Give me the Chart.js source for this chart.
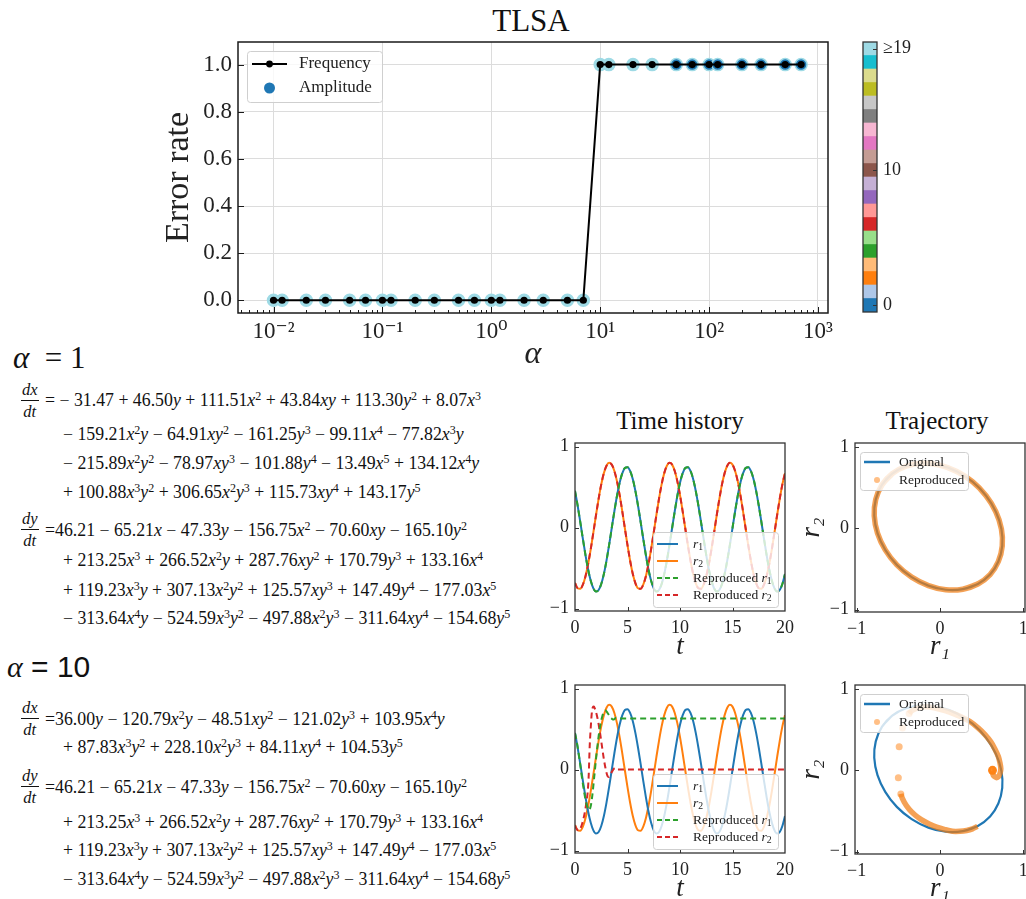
<!DOCTYPE html>
<html><head><meta charset="utf-8"><title>TLSA</title>
<script src="https://cdn.jsdelivr.net/npm/chart.js@4.4.1/dist/chart.umd.min.js"></script>
<style>
html,body{margin:0;padding:0;background:#fff;overflow:hidden;width:1026px;height:899px;}
body{position:relative;font-family:'Liberation Serif','DejaVu Serif',serif;color:#111;}
canvas{position:absolute;}
.t{position:absolute;white-space:nowrap;line-height:1;}
.eq{position:absolute;white-space:nowrap;font-size:17.8px;line-height:20px;transform:translateY(-50%);}
.eq i{font-style:italic;}
.eq sup{font-size:12px;vertical-align:6px;line-height:0;}
.frac{position:absolute;display:flex;flex-direction:column;align-items:center;font-style:italic;font-size:16.5px;line-height:16px;transform:translateY(-50%);}
.frac span:first-child{border-bottom:1px solid #111;padding:0 1px 2px 1px;}
.frac span:last-child{padding-top:3px;}
</style></head>
<body>
<div class="t" style="left:531px;top:20px;transform:translate(-50%,-50%);font-size:31px">TLSA</div>
<canvas id="cMain" width="710" height="375" style="left:150px;top:0"></canvas>
<canvas id="cBar" width="80" height="308" style="left:855px;top:22px"></canvas>

<div class="t" style="left:13px;top:357px;transform:translateY(-50%);font-size:31px"><i>α</i>&nbsp;&nbsp;= 1</div>
<div class="t" style="left:7px;top:667px;transform:translateY(-50%);font-size:30px;font-family:'Liberation Sans','Open Sans',sans-serif"><i style="font-family:'Liberation Serif',serif">α</i> = 10</div>
<div id="eqs"></div>

<div class="t" style="left:680px;top:420px;transform:translate(-50%,-50%);font-size:25px">Time history</div>
<div class="t" style="left:937px;top:420px;transform:translate(-50%,-50%);font-size:25px">Trajectory</div>
<canvas id="cT1" width="280" height="247" style="left:535px;top:423px"></canvas>
<canvas id="cP1" width="270" height="247" style="left:790px;top:423px"></canvas>
<canvas id="cT2" width="280" height="247" style="left:535px;top:665px"></canvas>
<canvas id="cP2" width="270" height="247" style="left:790px;top:665px"></canvas>

<script>
// ---------------- DATA ----------------
const alphaVals = [0.01,0.012,0.02,0.03,0.05,0.07,0.1,0.12,0.2,0.3,0.5,0.7,1,1.2,2,3,5,7,10,12,20,30,50,70,100,120,200,300,500,700];
const freqErrRate = [0,0,0,0,0,0,0,0,0,0,0,0,0,0,0,0,0,0,1,1,1,1,1,1,1,1,1,1,1,1];
const ampErrRate  = [0,0,0,0,0,0,0,0,0,0,0,0,0,0,0,0,0,0,1,1,1,1,1,1,1,1,1,1,1,1];
const ampLevel    = [19,19,19,19,19,19,19,19,19,19,19,19,19,19,19,19,19,19,19,19,19,19,0,0,0,0,0,0,0,0];
const xTickVals   = [0.01,0.1,1,10,100,1000];
const xTickLabels = ['10⁻²','10⁻¹','10⁰','10¹','10²','10³'];
const yTickVals   = [0,0.2,0.4,0.6,0.8,1.0];
const yTickLabels = ['0.0','0.2','0.4','0.6','0.8','1.0'];
const cbLevels    = [0,1,2,3,4,5,6,7,8,9,10,11,12,13,14,15,16,17,18,19];
const cbTickVals  = [0,10,19];
const cbTickLabels= ['0','10','≥19'];

const tOrig = [0,0.25,0.5,0.75,1,1.25,1.5,1.75,2,2.25,2.5,2.75,3,3.25,3.5,3.75,4,4.25,4.5,4.75,5,5.25,5.5,5.75,6,6.25,6.5,6.75,7,7.25,7.5,7.75,8,8.25,8.5,8.75,9,9.25,9.5,9.75,10,
  10.25,10.5,10.75,11,11.25,11.5,11.75,12,12.25,12.5,12.75,13,13.25,13.5,13.75,14,14.25,14.5,14.75,15,15.25,15.5,15.75,16,16.25,16.5,16.75,17,17.25,17.5,17.75,18,18.25,18.5,18.75,19,19.25,19.5,19.75,20];
const r1Orig = [0.454,0.273,0.070,-0.139,-0.340,-0.518,-0.657,-0.750,-0.789,-0.771,-0.697,-0.573,-0.407,-0.214,-0.005,0.202,0.393,0.553,0.670,0.737,0.747,0.700,0.601,
  0.454,0.273,0.070,-0.139,-0.340,-0.518,-0.657,-0.750,-0.789,-0.771,-0.697,-0.573,-0.407,-0.214,-0.005,0.202,0.393,0.553,0.670,0.737,0.747,0.700,0.601,
  0.454,0.273,0.070,-0.139,-0.340,-0.518,-0.657,-0.750,-0.789,-0.771,-0.697,-0.573,-0.407,-0.214,-0.005,0.202,0.393,0.553,0.670,0.737,0.747,0.700,0.601,
  0.454,0.273,0.070,-0.139,-0.340,-0.518,-0.657,-0.750,-0.789,-0.771,-0.697,-0.573];
const r2Orig = [-0.685,-0.749,-0.756,-0.705,-0.601,-0.450,-0.265,-0.059,0.154,0.356,0.534,0.673,0.764,0.800,0.778,0.699,0.571,0.401,0.204,-0.008,-0.217,-0.409,-0.569,
  -0.685,-0.749,-0.756,-0.705,-0.601,-0.450,-0.265,-0.059,0.154,0.356,0.534,0.673,0.764,0.800,0.778,0.699,0.571,0.401,0.204,-0.008,-0.217,-0.409,-0.569,
  -0.685,-0.749,-0.756,-0.705,-0.601,-0.450,-0.265,-0.059,0.154,0.356,0.534,0.673,0.764,0.800,0.778,0.699,0.571,0.401,0.204,-0.008,-0.217,-0.409,-0.569,
  -0.685,-0.749,-0.756,-0.705,-0.601,-0.450,-0.265,-0.059,0.154,0.356,0.534,0.673];
// alpha = 1: reproduced curves coincide with the originals
const r1Rep1 = r1Orig;
const r2Rep1 = r2Orig;
// alpha = 10: reproduced curves
const tRep10 = [0,0.1,0.2,0.3,0.4,0.5,0.6,0.7,0.8,0.9,1.0,1.1,1.2,1.3,1.4,1.5,1.6,1.7,1.8,1.9,2.0,2.1,2.2,2.3,2.4,2.5,2.6,2.7,2.8,2.9,3.0,3.1,3.2,3.3,3.4,3.5,3.6,3.7,3.8,3.9,4.0,
  4.5,5,5.5,6,6.5,7,7.5,8,8.5,9,9.5,10,10.5,11,11.5,12,12.5,13,13.5,14,14.5,15,15.5,16,16.5,17,17.5,18,18.5,19,19.5,20];
const r1Rep10 = [0.45,0.39,0.32,0.24,0.15,0.06,-0.04,-0.13,-0.22,-0.30,-0.37,-0.43,-0.47,-0.50,-0.49,-0.45,-0.37,-0.26,-0.13,0.00,0.13,0.25,0.36,0.46,0.54,0.61,0.66,0.70,0.72,0.73,0.72,0.70,0.68,0.66,0.64,0.63,0.62,0.62,0.63,0.64,0.64,
  0.63,0.63,0.63,0.63,0.63,0.63,0.63,0.63,0.63,0.63,0.63,0.63,0.63,0.63,0.63,0.63,0.63,0.63,0.63,0.63,0.63,0.63,0.63,0.63,0.63,0.63,0.63,0.63,0.63,0.63,0.63,0.63];
const r2Rep10 = [-0.69,-0.72,-0.74,-0.75,-0.75,-0.73,-0.70,-0.66,-0.61,-0.55,-0.48,-0.39,-0.29,-0.09,0.29,0.52,0.70,0.77,0.78,0.75,0.71,0.66,0.60,0.52,0.44,0.35,0.26,0.17,0.09,0.02,-0.04,-0.08,-0.09,-0.08,-0.06,-0.03,-0.01,0.01,0.02,0.01,0.00,
  0,0,0,0,0,0,0,0,0,0,0,0,0,0,0,0,0,0,0,0,0,0,0,0,0,0,0,0,0,0,0,0];
const timeTickVals = [0,5,10,15,20];
const timeTickLabels = ['0','5','10','15','20'];
const unitTickVals = [-1,0,1];
const unitTickLabels = ['−1','0','1'];

// equations text
const eqA1dx = [
 '= − 31.47 + 46.50y + 111.51x^2 + 43.84xy + 113.30y^2 + 8.07x^3',
 '− 159.21x^2y − 64.91xy^2 − 161.25y^3 − 99.11x^4 − 77.82x^3y',
 '− 215.89x^2y^2 − 78.97xy^3 − 101.88y^4 − 13.49x^5 + 134.12x^4y',
 '+ 100.88x^3y^2 + 306.65x^2y^3 + 115.73xy^4 + 143.17y^5'];
const eqDy = [
 '=46.21 − 65.21x − 47.33y − 156.75x^2 − 70.60xy − 165.10y^2',
 '+ 213.25x^3 + 266.52x^2y + 287.76xy^2 + 170.79y^3 + 133.16x^4',
 '+ 119.23x^3y + 307.13x^2y^2 + 125.57xy^3 + 147.49y^4 − 177.03x^5',
 '− 313.64x^4y − 524.59x^3y^2 − 497.88x^2y^3 − 311.64xy^4 − 154.68y^5'];
const eqA10dx = [
 '=36.00y − 120.79x^2y − 48.51xy^2 − 121.02y^3 + 103.95x^4y',
 '+ 87.83x^3y^2 + 228.10x^2y^3 + 84.11xy^4 + 104.53y^5'];

// ---------------- EQUATION LAYOUT ----------------
(function(){
  const host = document.getElementById('eqs');
  const fmt = s => s.replace(/[xy]/g, m => '<i>' + m + '</i>').replace(/\^(\d)/g, '<sup>$1</sup>');
  function line(txt, x, y){ const d = document.createElement('div'); d.className='eq'; d.style.left=x+'px'; d.style.top=y+'px'; d.innerHTML = fmt(txt); host.appendChild(d); }
  function frac(num, den, x, y){ const d = document.createElement('div'); d.className='frac'; d.style.left=x+'px'; d.style.top=y+'px'; d.innerHTML='<span>'+num+'</span><span>'+den+'</span>'; host.appendChild(d); }
  const ysA1dx = [400,434,463,492], ysA1dy = [530,560,590,618];
  frac('dx','dt',21,401); frac('dy','dt',21,530);
  eqA1dx.forEach((s,i)=>line(s, i===0?45:63, ysA1dx[i]));
  eqDy.forEach((s,i)=>line(s, i===0?45:63, ysA1dy[i]));
  const ysA10dx = [719,747], ysA10dy = [787,822,850,879];
  frac('dx','dt',21,719); frac('dy','dt',21,787);
  eqA10dx.forEach((s,i)=>line(s, i===0?45:63, ysA10dx[i]));
  eqDy.forEach((s,i)=>line(s, i===0?45:63, ysA10dy[i]));
})();

// ---------------- CHART HELPERS ----------------
const SERIF = "'Liberation Serif','DejaVu Serif',serif";
Chart.defaults.font.family = SERIF;
Chart.defaults.color = '#222';
const tab20 = ['#1f77b4','#aec7e8','#ff7f0e','#ffbb78','#2ca02c','#98df8a','#d62728','#ff9896','#9467bd','#c5b0d5','#8c564b','#c49c94','#e377c2','#f7b6d2','#7f7f7f','#c7c7c7','#bcbd22','#dbdb8d','#17becf','#9edae5'];
const C_BLUE='#1f77b4', C_ORANGE='#ff7f0e', C_GREEN='#2ca02c', C_RED='#d62728';
const REP_BAND = 'rgba(240,125,20,0.72)';
const REP_DOT = 'rgba(255,127,14,0.5)';

function labelFrom(vals, labels){ return v => { const i = vals.findIndex(t => Math.abs(t - v) < 1e-9 * Math.max(1, Math.abs(t))); return i >= 0 ? labels[i] : ''; }; }
function isDecade(v){ const l = Math.log10(v); return Math.abs(l - Math.round(l)) < 1e-6; }

function drawRich(ctx, parts, x, y, size){
  ctx.textBaseline='middle'; ctx.textAlign='left'; ctx.fillStyle='#222';
  let cx = x;
  parts.forEach(([t, st]) => {
    let fs = size, dy = 0;
    const it = st.indexOf('i') >= 0;
    if (st.indexOf('s') >= 0){ fs = size*0.72; dy = size*0.28; }
    ctx.font = (it ? 'italic ' : '') + fs + 'px ' + SERIF;
    ctx.fillText(t, cx, y + dy);
    cx += ctx.measureText(t).width;
  });
}
function framePlugin(cfg){
  return { id:'frame', afterDatasetsDraw(chart){
    const {ctx, chartArea:a} = chart;
    ctx.save();
    ctx.strokeStyle = cfg.color || '#222';
    ctx.lineWidth = 1;
    ctx.beginPath();
    if (cfg.xTicks){
      const s = chart.scales.x;
      s.ticks.forEach(t => {
        const p = s.getPixelForValue(t.value);
        if (p < a.left + 1 || p > a.right - 1) return;
        const major = cfg.logX ? isDecade(t.value) : true;
        const L = major ? cfg.xTicks : (cfg.xMinor || 0);
        if (!L) return;
        ctx.moveTo(Math.round(p)+0.5, a.bottom); ctx.lineTo(Math.round(p)+0.5, a.bottom - L);
      });
    }
    if (cfg.yTicks){
      const s = chart.scales.y;
      s.ticks.forEach(t => {
        const p = s.getPixelForValue(t.value);
        if (p < a.top - 0.5 || p > a.bottom + 0.5) return;
        const yy = Math.round(p)+0.5;
        if (cfg.ySide === 'right'){ ctx.moveTo(a.right, yy); ctx.lineTo(a.right - cfg.yTicks, yy); }
        else { ctx.moveTo(a.left, yy); ctx.lineTo(a.left + cfg.yTicks, yy); }
      });
    }
    ctx.stroke();
    ctx.lineWidth = cfg.lw || 1.3;
    ctx.strokeRect(a.left, a.top, a.right - a.left, a.bottom - a.top);
    ctx.restore();
  }};
}
function legendPlugin(cfg){
  return { id:'boxLegend', afterDraw(chart){
    const {ctx, chartArea:a} = chart;
    const x0 = a.left + cfg.x, y0 = a.top + cfg.y;
    ctx.save();
    ctx.beginPath();
    if (ctx.roundRect) ctx.roundRect(x0+0.5, y0+0.5, cfg.w, cfg.h, 3); else ctx.rect(x0+0.5, y0+0.5, cfg.w, cfg.h);
    ctx.fillStyle = 'rgba(255,255,255,0.8)'; ctx.fill();
    ctx.strokeStyle = '#cfcfcf'; ctx.lineWidth = 1; ctx.stroke();
    cfg.rows.forEach(r => {
      const ry = y0 + r.dy;
      if (r.line){
        ctx.beginPath(); ctx.setLineDash(r.dash || []); ctx.strokeStyle = r.color; ctx.lineWidth = r.lw || 2;
        ctx.moveTo(x0 + cfg.s0, ry); ctx.lineTo(x0 + cfg.s1, ry); ctx.stroke(); ctx.setLineDash([]);
      }
      if (r.dot){
        ctx.beginPath(); ctx.fillStyle = r.dotColor || r.color;
        ctx.arc(x0 + (cfg.s0 + cfg.s1)/2, ry, r.dot, 0, Math.PI*2); ctx.fill();
      }
      drawRich(ctx, r.text, x0 + cfg.tx, ry, cfg.size);
    });
    ctx.restore();
  }};
}
const noPlugins = { legend:{display:false}, tooltip:{enabled:false} };

// ---------------- MAIN CHART ----------------
const X_MIN = 0.00472, X_MAX = 1236;
new Chart(document.getElementById('cMain'), {
  type:'scatter',
  data:{ datasets:[
    { label:'Frequency', data: alphaVals.map((a,i)=>({x:a, y:freqErrRate[i]})), showLine:true,
      borderColor:'#000', backgroundColor:'#000', borderWidth:2, pointRadius:3.6, pointBorderWidth:0, tension:0, order:1 },
    { label:'Amplitude', data: alphaVals.map((a,i)=>({x:a, y:ampErrRate[i]})), showLine:false,
      pointRadius:6, pointBackgroundColor: ampLevel.map(l => tab20[l]), pointBorderColor:'#9edae5', pointBorderWidth:1.5, order:2 }
  ]},
  options:{
    responsive:false, animation:false, events:[],
    layout:{ padding:{ left:0, right:32, top:42, bottom:0 } },
    plugins: noPlugins,
    scales:{
      x:{ type:'logarithmic', min:X_MIN, max:X_MAX,
        afterBuildTicks: s => { const arr=[]; for (let e=-3;e<=3;e++){ for (let m=1;m<=9;m++){ const v = m*Math.pow(10,e); if (v>=X_MIN && v<=X_MAX) arr.push({value:v}); } } s.ticks = arr; },
        afterFit: s => { s.height = 62; },
        grid:{ drawTicks:false, color: c => (c.tick && isDecade(c.tick.value)) ? '#dcdcdc' : 'rgba(0,0,0,0)', lineWidth:1 },
        border:{ display:false },
        ticks:{ autoSkip:false, maxRotation:0, padding:5, font:{size:23}, color:'#222', callback: labelFrom(xTickVals, xTickLabels) },
        title:{ display:true, text:'α', font:{size:32, style:'italic'}, color:'#222', padding:{top:0,bottom:1} } },
      y:{ min:-0.054, max:1.096,
        afterBuildTicks: s => { s.ticks = yTickVals.map(v => ({value:v})); },
        afterFit: s => { s.width = 88; },
        grid:{ drawTicks:false, color:'#dcdcdc', lineWidth:1 },
        border:{ display:false },
        ticks:{ padding:6, font:{size:23}, color:'#222', callback: labelFrom(yTickVals, yTickLabels) },
        title:{ display:true, text:'Error rate', font:{size:34}, color:'#222', padding:{top:9,bottom:0} } }
    }
  },
  plugins:[ framePlugin({ xTicks:6, xMinor:3, logX:true, yTicks:6, lw:1.5, color:'#1a1a1a' }),
            legendPlugin({ x:9, y:9, w:135, h:51, s0:5, s1:40, tx:52, size:17, rows:[
              { dy:13, line:true, color:'#000', lw:2, dot:3.4, dotColor:'#000', text:[['Frequency','']] },
              { dy:37, dot:5.5, color:C_BLUE, text:[['Amplitude','']] } ] }) ]
});

// ---------------- COLORBAR ----------------
new Chart(document.getElementById('cBar'), {
  type:'bar',
  data:{ labels:['level'], datasets: cbLevels.map(l => ({ data:[[l-0.5, l+0.5]], backgroundColor: tab20[l], borderWidth:0, grouped:false, barPercentage:1, categoryPercentage:1 })) },
  options:{
    responsive:false, animation:false, events:[],
    layout:{ padding:{ left:8, right:0, top:20, bottom:18 } },
    plugins: noPlugins,
    scales:{
      x:{ display:false },
      y:{ position:'right', min:-0.5, max:19.5,
        afterBuildTicks: s => { s.ticks = cbTickVals.map(v => ({value:v})); },
        afterFit: s => { s.width = 58; },
        grid:{ display:false, drawTicks:false }, border:{ display:false },
        ticks:{ padding:6, font:{size:18}, color:'#222', callback: labelFrom(cbTickVals, cbTickLabels) } }
    }
  },
  plugins:[ framePlugin({ yTicks:4, ySide:'right', lw:1.3, color:'#333' }) ]
});

// ---------------- TIME HISTORY ----------------
function timeChart(id, tRep, rep1, rep2){
  const dashed = { borderWidth:2, borderDash:[6,4], pointRadius:0, cubicInterpolationMode:'monotone', showLine:true, order:1 };
  const solid = { borderWidth:2, pointRadius:0, cubicInterpolationMode:'monotone', showLine:true, order:2 };
  new Chart(document.getElementById(id), {
    type:'scatter',
    data:{ datasets:[
      Object.assign({ label:'r1', data: tOrig.map((t,i)=>({x:t,y:r1Orig[i]})), borderColor:C_BLUE }, solid),
      Object.assign({ label:'r2', data: tOrig.map((t,i)=>({x:t,y:r2Orig[i]})), borderColor:C_ORANGE }, solid),
      Object.assign({ label:'Reproduced r1', data: tRep.map((t,i)=>({x:t,y:rep1[i]})), borderColor:C_GREEN }, dashed),
      Object.assign({ label:'Reproduced r2', data: tRep.map((t,i)=>({x:t,y:rep2[i]})), borderColor:C_RED }, dashed)
    ]},
    options:{
      responsive:false, animation:false, events:[],
      layout:{ padding:{ left:0, right:30, top:20, bottom:0 } },
      plugins: noPlugins,
      scales:{
        x:{ type:'linear', min:0, max:20,
          afterBuildTicks: s => { s.ticks = timeTickVals.map(v=>({value:v})); },
          afterFit: s => { s.height = 59; },
          grid:{ display:false, drawTicks:false }, border:{ display:false },
          ticks:{ padding:6, font:{size:18}, color:'#222', maxRotation:0, autoSkip:false, callback: labelFrom(timeTickVals, timeTickLabels) },
          title:{ display:true, text:'t', font:{size:27, style:'italic'}, color:'#222', padding:{top:0,bottom:7} } },
        y:{ min:-1.03, max:1.045,
          afterBuildTicks: s => { s.ticks = unitTickVals.map(v=>({value:v})); },
          afterFit: s => { s.width = 40; },
          grid:{ display:false, drawTicks:false }, border:{ display:false },
          ticks:{ padding:6, font:{size:18}, color:'#222', callback: labelFrom(unitTickVals, unitTickLabels) } }
      }
    },
    plugins:[ framePlugin({ xTicks:4, yTicks:4, lw:1.3, color:'#333' }),
      legendPlugin({ x:78, y:89, w:125, h:75, s0:4, s1:25, tx:40, size:13.5, rows:[
        { dy:12, line:true, color:C_BLUE, lw:2, text:[['r','i'],['1','s']] },
        { dy:29, line:true, color:C_ORANGE, lw:2, text:[['r','i'],['2','s']] },
        { dy:46, line:true, color:C_GREEN, lw:2, dash:[5,3], text:[['Reproduced ',''],['r','i'],['1','s']] },
        { dy:63, line:true, color:C_RED, lw:2, dash:[5,3], text:[['Reproduced ',''],['r','i'],['2','s']] } ] }) ]
  });
}

// ---------------- TRAJECTORY ----------------
function trajChart(id, repX, repY, sparse){
  const last = repX.length - 1;
  const gap = (i, j) => Math.hypot(repX[i]-repX[j], repY[i]-repY[j]);
  const repDs = { label:'Reproduced', data: repX.map((v,i)=>({x:v, y:repY[i]})), showLine:true,
    borderColor: REP_BAND, backgroundColor: REP_DOT, borderWidth:5.5, tension:0.4, order:1,
    pointBorderWidth:0, pointRadius:0 };
  if (sparse){
    repDs.tension = 0.3;
    repDs.segment = { borderColor: c => gap(c.p0DataIndex, c.p1DataIndex) > 0.18 ? 'rgba(0,0,0,0)' : REP_BAND };
    repDs.pointRadius = c => {
      const i = c.dataIndex;
      if (i === last) return 4.5;
      const a = i > 0 ? gap(i, i-1) : 0, b = i < last ? gap(i, i+1) : 0;
      return (a > 0.18 || b > 0.18) ? 3.5 : 0;
    };
    repDs.pointBackgroundColor = c => c.dataIndex === last ? 'rgba(255,127,14,0.9)' : REP_DOT;
  }
  new Chart(document.getElementById(id), {
    type:'scatter',
    data:{ datasets:[
      { label:'Original', data: r1Orig.map((v,i)=>({x:v, y:r2Orig[i]})), showLine:true, borderColor:C_BLUE, borderWidth:2.2, pointRadius:0, tension:0.4, order:2 },
      repDs
    ]},
    options:{
      responsive:false, animation:false, events:[],
      layout:{ padding:{ left:0, right:35, top:20, bottom:0 } },
      plugins: noPlugins,
      scales:{
        x:{ type:'linear', min:-1.02, max:1.02,
          afterBuildTicks: s => { s.ticks = unitTickVals.map(v=>({value:v})); },
          afterFit: s => { s.height = 58; },
          grid:{ display:false, drawTicks:false }, border:{ display:false },
          ticks:{ padding:6, font:{size:18}, color:'#222', maxRotation:0, autoSkip:false, callback: labelFrom(unitTickVals, unitTickLabels) },
          title:{ display:true, text:'r₁', font:{size:27, style:'italic'}, color:'#222', padding:{top:0,bottom:7} } },
        y:{ min:-1.03, max:1.05,
          afterBuildTicks: s => { s.ticks = unitTickVals.map(v=>({value:v})); },
          afterFit: s => { s.width = 65; },
          grid:{ display:false, drawTicks:false }, border:{ display:false },
          ticks:{ padding:6, font:{size:18}, color:'#222', callback: labelFrom(unitTickVals, unitTickLabels) },
          title:{ display:true, text:'r₂', font:{size:27, style:'italic'}, color:'#222', padding:{top:6,bottom:0} } }
      }
    },
    plugins:[ framePlugin({ xTicks:4, yTicks:4, lw:1.3, color:'#333' }),
      legendPlugin({ x:5, y:9, w:108, h:38, s0:4, s1:30, tx:39, size:13.5, rows:[
        { dy:10, line:true, color:C_BLUE, lw:2.5, text:[['Original','']] },
        { dy:28, dot:3, color:REP_DOT, text:[['Reproduced','']] } ] }) ]
  });
}

timeChart('cT1', tOrig, r1Rep1, r2Rep1);
trajChart('cP1', r1Rep1, r2Rep1, false);
timeChart('cT2', tRep10, r1Rep10, r2Rep10);
trajChart('cP2', r1Rep10, r2Rep10, true);
</script>
</body></html>
